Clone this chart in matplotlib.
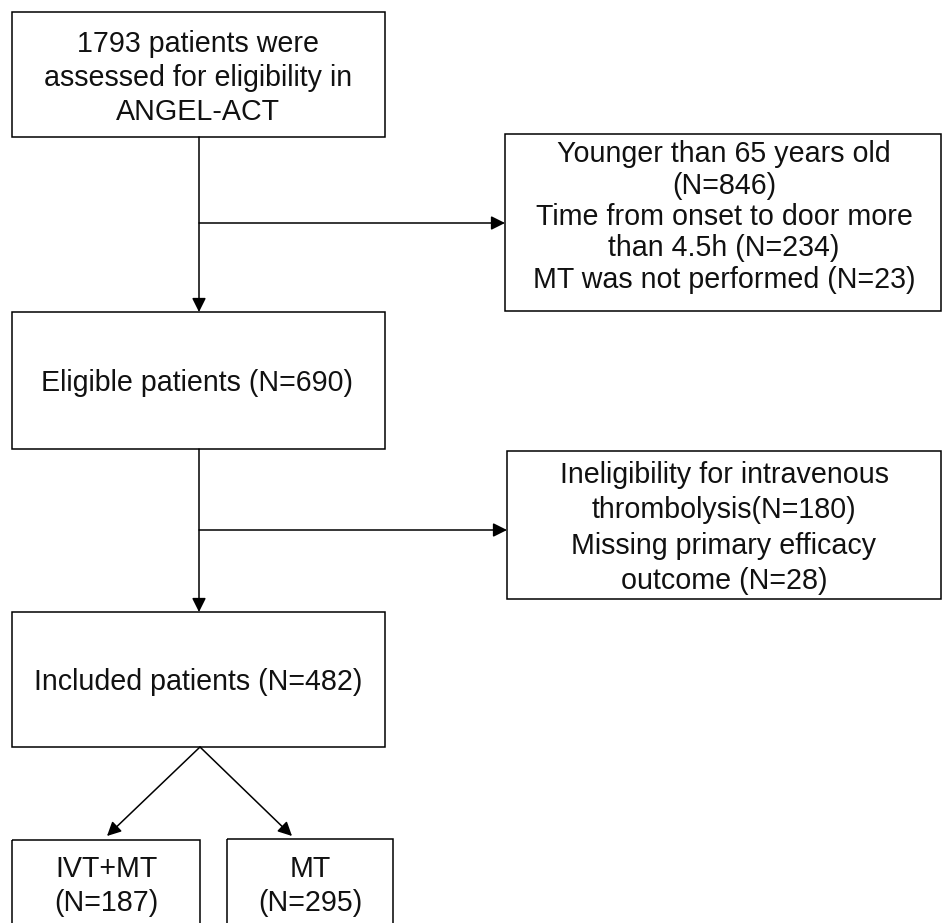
import matplotlib
matplotlib.use("Agg")
import matplotlib.pyplot as plt
from matplotlib.patches import Rectangle, FancyArrowPatch

plt.rcParams['font.family'] = ['Liberation Sans', 'DejaVu Sans']

# Box texts
box_texts = [
    "1793 patients were\nassessed for eligibility in\nANGEL-ACT",
    "Younger than 65 years old\n(N=846)\nTime from onset to door more\nthan 4.5h (N=234)\nMT was not performed (N=23)",
    "Eligible patients (N=690)",
    "Ineligibility for intravenous\nthrombolysis(N=180)\nMissing primary efficacy\noutcome (N=28)",
    "Included patients (N=482)",
    "IVT+MT\n(N=187)",
    "MT\n(N=295)",
]
# Box geometry (pixel coordinates: x0, y0, x1, y1)
box_geom = [
    (12, 12, 385, 137),
    (505, 134, 941, 311),
    (12, 312, 385, 449),
    (507, 451, 941, 599),
    (12, 612, 385, 747),
    (12, 840, 200, 930),
    (227, 839, 393, 930),
]
text_pos = [
    (198, 78),
    (724, 217),
    (197, 383),
    (724, 528),
    (198, 682),
    (106, 886),
    (310, 886),
]
linesp = [1.29, 1.15, 1.0, 1.33, 1.0, 1.25, 1.25]

W, H = 943, 923
fig = plt.figure(figsize=(W / 100, H / 100), dpi=100)
ax = fig.add_axes([0, 0, 1, 1])
ax.set_xlim(0, W)
ax.set_ylim(H, 0)
ax.axis('off')

for (x0, y0, x1, y1), t, (tx, ty), ls in zip(box_geom, box_texts, text_pos, linesp):
    ax.add_patch(Rectangle((x0, y0), x1 - x0, y1 - y0, fill=False,
                           edgecolor='black', linewidth=1.1))
    ax.text(tx, ty, t, ha='center', va='center', fontsize=20.6,
            linespacing=ls, color='#111111')

def arrow(p0, p1):
    ax.add_patch(FancyArrowPatch(p0, p1, arrowstyle='-|>,head_length=0.6,head_width=0.3',
                                 mutation_scale=14, color='black', linewidth=1.1,
                                 shrinkA=0, shrinkB=0))

# vertical flows
arrow((199, 137), (199, 312))
arrow((199, 449), (199, 612))
# side branches
arrow((199, 223), (505, 223))
arrow((199, 530), (507, 530))
# split
arrow((200, 747), (107, 836))
arrow((200, 747), (292, 836))

fig.savefig("out.png", dpi=100)
